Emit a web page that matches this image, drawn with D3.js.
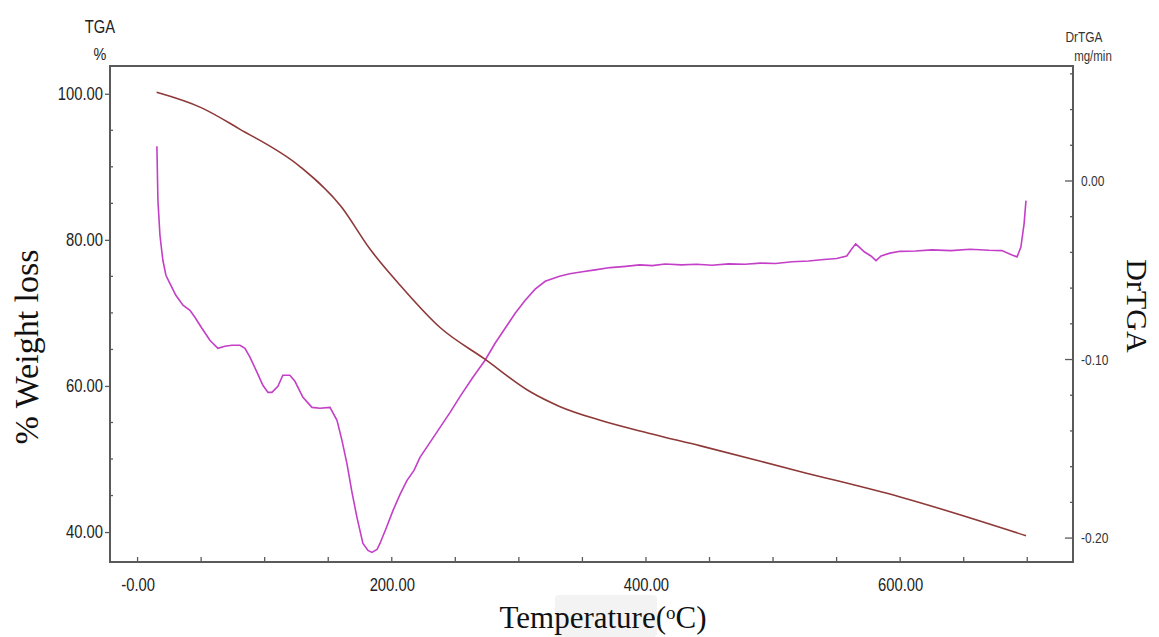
<!DOCTYPE html>
<html>
<head>
<meta charset="utf-8">
<script src="https://cdn.jsdelivr.net/npm/d3@7"></script>
<style>
  html, body { margin: 0; padding: 0; background: #fff; }
  svg { display: block; }
</style>
</head>
<body>
<svg id="chart" width="1159" height="637"></svg>
<script>
// ---- data ----
const tgaTemp   = [15, 50, 80, 128, 160, 183, 206, 238, 273, 309, 332, 364, 403, 443, 521, 600, 699];
const tgaWeight = [100.2, 98.1, 95.2, 90.0, 84.6, 78.7, 73.9, 68.0, 63.7, 59.2, 57.2, 55.3, 53.5, 51.8, 48.3, 44.8, 39.5];

const dtgTemp = [15.2, 16.0, 17.6, 19.9, 22.3, 25.4, 30.1, 35.7, 41.2, 45.1, 50.6, 56.9, 63.2, 68.7, 74.2, 80.5, 84.5, 88.4,
  93.9, 98.6, 102.6, 105.7, 110.4, 114.3, 119.8, 123.8, 130.1, 137.2, 143.5, 151.4, 156.9, 160.8, 164.7, 168.7, 172.6,
  177.3, 181.3, 184.4, 188.4, 190.7, 195.5, 201.0, 206.5, 212.0, 217.5, 222.2, 230.1, 238.0, 245.9, 253.8, 263.3, 273.4,
  281.3, 289.2, 297.1, 305.0, 312.8, 320.7, 332, 340, 350, 360, 372, 384, 395, 405, 415, 428, 440, 452, 465, 478, 490,
  502, 515, 528, 540, 550, 558, 562, 565, 568, 572, 577, 581, 585, 592, 600, 612, 625, 640, 655, 670, 680, 688, 692,
  695, 697.5, 699];
const dtgValue = [0.0194, -0.0108, -0.0304, -0.0444, -0.0528, -0.0573, -0.0640, -0.0696, -0.0724, -0.0763, -0.0825,
  -0.0892, -0.0937, -0.0926, -0.0920, -0.0920, -0.0937, -0.0987, -0.1071, -0.1144, -0.1184, -0.1184, -0.1150, -0.1088,
  -0.1088, -0.1122, -0.1212, -0.1268, -0.1273, -0.1268, -0.1341, -0.1453, -0.1582, -0.1744, -0.1884, -0.2030, -0.2069,
  -0.2080, -0.2064, -0.2030, -0.1946, -0.1845, -0.1755, -0.1677, -0.1621, -0.1548, -0.1464, -0.1380, -0.1296, -0.1206,
  -0.1105, -0.1004, -0.0909, -0.0825, -0.0741, -0.0668, -0.0606, -0.0562, -0.0534, -0.0520, -0.0508, -0.0498, -0.0485,
  -0.0478, -0.0470, -0.0474, -0.0465, -0.0470, -0.0466, -0.0472, -0.0464, -0.0466, -0.0460, -0.0462, -0.0452, -0.0448,
  -0.0440, -0.0434, -0.0420, -0.0380, -0.0352, -0.0372, -0.0398, -0.0420, -0.0446, -0.0420, -0.0404, -0.0394, -0.0392,
  -0.0386, -0.0390, -0.0382, -0.0388, -0.0390, -0.0415, -0.0425, -0.0370, -0.0240, -0.0110];

const xTicks = [0, 200, 400, 600];
const xTickLabels = ["-0.00", "200.00", "400.00", "600.00"];
const yLTicks = [40, 60, 80, 100];
const yLTickLabels = ["40.00", "60.00", "80.00", "100.00"];
const yRTicks = [-0.2, -0.1, 0];
const yRTickLabels = ["-0.20", "-0.10", "0.00"];

// ---- layout ----
const svg = d3.select("#chart");
const L = 110, R = 1073, T = 66, B = 562;
const x  = d3.scaleLinear().domain([-21.7, 736]).range([L, R]);
const yL = d3.scaleLinear().domain([35.9, 103.8]).range([B, T]);
const yR = d3.scaleLinear().domain([-0.2134, 0.0644]).range([B, T]);

const axisColor = "#5a5a5a";
const tickFont = "'Liberation Sans', Arial, sans-serif";
const serif = "'Liberation Serif', 'Times New Roman', serif";

// condense helper (reference uses a narrow sans face)
function condense(sel, k) {
  sel.each(function () {
    const w = this.getComputedTextLength();
    d3.select(this).attr("textLength", w * k).attr("lengthAdjust", "spacingAndGlyphs");
  });
}

// faint box behind x title (artifact in reference)
svg.append("rect").attr("x", 555).attr("y", 595).attr("width", 102).attr("height", 42)
  .attr("rx", 4).attr("fill", "#f3f3f3");

// bottom axis
const gx = svg.append("g").attr("transform", `translate(0,${B})`);
gx.call(d3.axisBottom(x).tickValues(xTicks).tickSize(0).tickFormat((d, i) => xTickLabels[i]))
  .call(g => g.select(".domain").remove());
gx.selectAll("text").attr("dy", "1.4em").attr("font-family", tickFont).attr("font-size", 18.5).attr("fill", "#222")
  .call(condense, 0.8);
const xMinor = d3.range(0, 701, 50);
gx.selectAll(".mt").data(xMinor).enter().append("line")
  .attr("x1", d => x(d)).attr("x2", d => x(d)).attr("y1", 0).attr("y2", -5)
  .attr("stroke", axisColor).attr("stroke-width", 1.3);

// left axis
const gl = svg.append("g").attr("transform", `translate(${L},0)`);
gl.call(d3.axisLeft(yL).tickValues(yLTicks).tickSize(5).tickPadding(2).tickFormat((d, i) => yLTickLabels[i]))
  .call(g => g.select(".domain").remove());
gl.selectAll(".tick line").attr("stroke", axisColor).attr("stroke-width", 1.3);
gl.selectAll("text").attr("font-family", tickFont).attr("font-size", 18.5).attr("fill", "#222")
  .call(condense, 0.8);
const lMinor = d3.range(45, 100, 5).filter(d => !yLTicks.includes(d));
gl.selectAll(".mt").data(lMinor).enter().append("line")
  .attr("x1", 0).attr("x2", 3).attr("y1", d => yL(d)).attr("y2", d => yL(d))
  .attr("stroke", axisColor).attr("stroke-width", 1.3);

// right axis
const gr = svg.append("g").attr("transform", `translate(${R},0)`);
gr.call(d3.axisRight(yR).tickValues(yRTicks).tickSize(0).tickPadding(8).tickFormat((d, i) => yRTickLabels[i]))
  .call(g => g.select(".domain").remove());
gr.selectAll("text").attr("font-family", tickFont).attr("font-size", 15).attr("fill", "#333")
  .call(condense, 0.8);
gr.selectAll(".majt").data(yRTicks).enter().append("line")
  .attr("x1", -8).attr("x2", 0).attr("y1", d => yR(d)).attr("y2", d => yR(d))
  .attr("stroke", axisColor).attr("stroke-width", 1.3);
const rMinor = d3.range(-10, 4).map(k => k * 0.02).filter(d => Math.abs(d % 0.1) > 1e-6 && Math.abs(Math.abs(d % 0.1) - 0.1) > 1e-6);
gr.selectAll(".mt").data(rMinor).enter().append("line")
  .attr("x1", -3).attr("x2", 0).attr("y1", d => yR(d)).attr("y2", d => yR(d))
  .attr("stroke", axisColor).attr("stroke-width", 1.3);

// frame
svg.append("rect").attr("x", L).attr("y", T).attr("width", R - L).attr("height", B - T)
  .attr("fill", "none").attr("stroke", axisColor).attr("stroke-width", 2);

// curves
const tgaData = tgaTemp.map((t, i) => [t, tgaWeight[i]]);
const dtgData = dtgTemp.map((t, i) => [t, dtgValue[i]]);

svg.append("path").datum(dtgData)
  .attr("d", d3.line().x(d => x(d[0])).y(d => yR(d[1])).curve(d3.curveLinear))
  .attr("fill", "none").attr("stroke", "#c33fc7").attr("stroke-width", 1.6);

svg.append("path").datum(tgaData)
  .attr("d", d3.line().x(d => x(d[0])).y(d => yL(d[1])).curve(d3.curveMonotoneX))
  .attr("fill", "none").attr("stroke", "#8e3838").attr("stroke-width", 1.6);

// unit labels
svg.append("text").attr("x", 100).attr("y", 33).attr("text-anchor", "middle")
  .attr("font-family", tickFont).attr("font-size", 18).attr("fill", "#222").text("TGA").call(condense, 0.82);
svg.append("text").attr("x", 100).attr("y", 60).attr("text-anchor", "middle")
  .attr("font-family", tickFont).attr("font-size", 17).attr("fill", "#222").text("%").call(condense, 0.85);
svg.append("text").attr("x", 1084).attr("y", 42).attr("text-anchor", "middle")
  .attr("font-family", tickFont).attr("font-size", 14.5).attr("fill", "#333").text("DrTGA").call(condense, 0.82);
svg.append("text").attr("x", 1093).attr("y", 61).attr("text-anchor", "middle")
  .attr("font-family", tickFont).attr("font-size", 14).attr("fill", "#333").text("mg/min").call(condense, 0.82);

// axis titles
svg.append("text").attr("transform", "translate(38,347) rotate(-90)").attr("text-anchor", "middle")
  .attr("font-family", serif).attr("font-size", 34).attr("fill", "#111").text("% Weight loss");
svg.append("text").attr("transform", "translate(1127,306) rotate(90)").attr("text-anchor", "middle")
  .attr("font-family", serif).attr("font-size", 30).attr("fill", "#111").text("DrTGA");
const xt = svg.append("text").attr("x", 603).attr("y", 628).attr("text-anchor", "middle")
  .attr("font-family", serif).attr("font-size", 31).attr("fill", "#111");
xt.append("tspan").text("Temperature(");
xt.append("tspan").attr("font-size", 19).attr("dy", -9).text("o");
xt.append("tspan").attr("dy", 9).text("C)");
</script>
</body>
</html>
